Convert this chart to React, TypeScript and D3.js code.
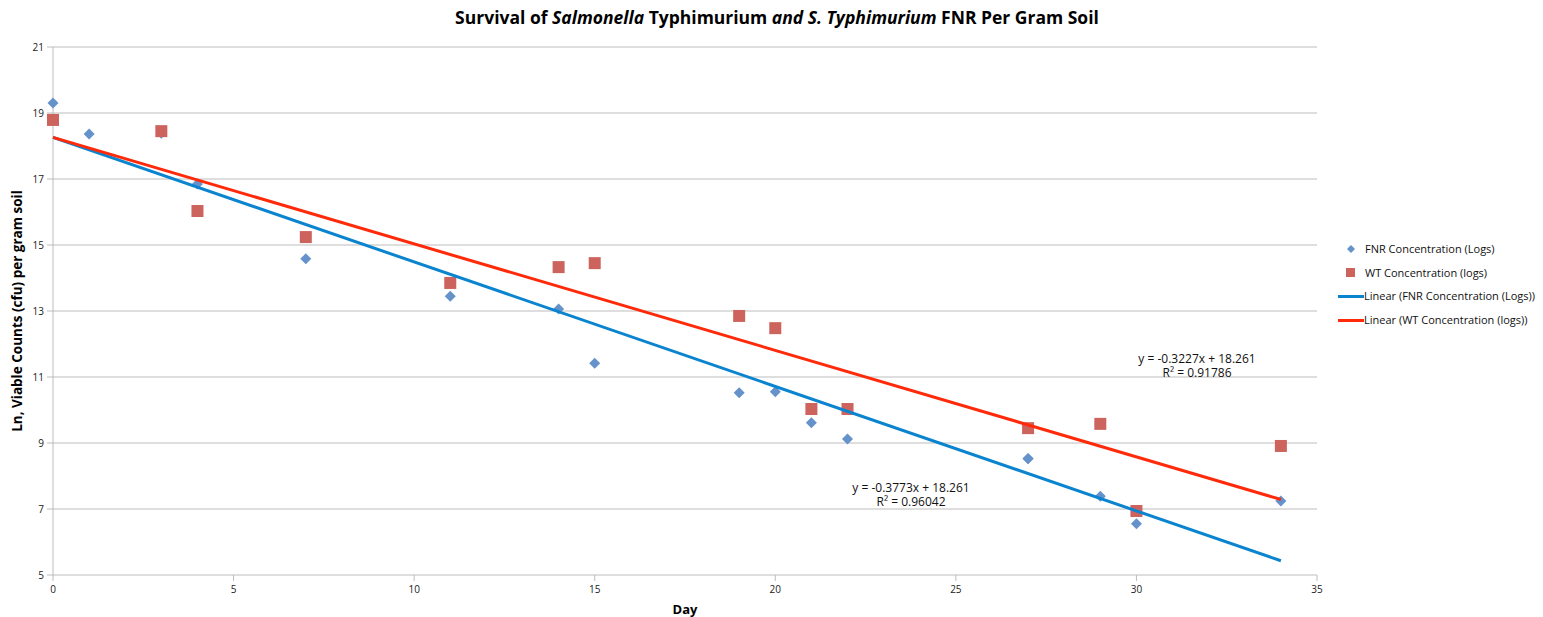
import React from 'react';
import * as d3 from 'd3';

// Day of sampling and ln counts
const fnrDays = [0, 1, 3, 4, 7, 11, 14, 15, 19, 20, 21, 22, 27, 27, 29, 30, 34];
const fnrValues = [19.3, 18.36, 18.39, 16.85, 14.58, 13.45, 13.06, 11.42, 10.52, 10.55, 9.61, 9.12, 8.52, 8.53, 7.39, 6.55, 7.24];

const wtDays = [0, 3, 4, 7, 11, 14, 15, 19, 20, 21, 22, 27, 29, 30, 34];
const wtValues = [18.79, 18.45, 16.03, 15.24, 13.85, 14.33, 14.45, 12.85, 12.48, 10.03, 10.03, 9.45, 9.58, 6.94, 8.91];

// trendline coefficients [slope, intercept, r2]
const fnrFit = [-0.3773, 18.261, 0.96042];
const wtFit = [-0.3227, 18.261, 0.91786];
const fitRange = [0, 34];

const xTicks = [0, 5, 10, 15, 20, 25, 30, 35];
const yTicks = [5, 7, 9, 11, 13, 15, 17, 19, 21];

const legendLabels = [
  'FNR Concentration (Logs)',
  'WT Concentration (logs)',
  'Linear (FNR Concentration (Logs))',
  'Linear (WT Concentration (logs))',
];

const FONT = '"Open Sans", "DejaVu Sans", sans-serif';
const BLUE_PT = '#6592CA';
const RED_PT = '#CD635D';
const BLUE_LN = '#0A84CE';
const RED_LN = '#FF2A0A';

const diamond = (cx: number, cy: number, r: number) =>
  `M${cx},${cy - r}L${cx + r},${cy}L${cx},${cy + r}L${cx - r},${cy}Z`;

export default function App() {
  const width = 1543;
  const height = 617;
  const left = 53, right = 1317, top = 47, bottom = 575;

  const x = d3.scaleLinear().domain([0, 35]).range([left, right]);
  const y = d3.scaleLinear().domain([5, 21]).range([bottom, top]);

  const fitPath = (fit: number[]) =>
    d3
      .line<number>()
      .x((d) => x(d))
      .y((d) => y(fit[0] * d + fit[1]))(fitRange) as string;

  return (
    <svg width={width} height={height} style={{ position: 'absolute', left: 0, top: 0, background: '#fff' }}>
      <text x={777} y={24} textAnchor="middle" fontFamily={FONT} fontWeight="bold" fontSize={17.5}>
        <tspan>Survival of </tspan>
        <tspan fontStyle="italic">Salmonella</tspan>
        <tspan> Typhimurium </tspan>
        <tspan fontStyle="italic">and S. Typhimurium</tspan>
        <tspan> FNR Per Gram Soil</tspan>
      </text>

      {/* grid */}
      {yTicks.map((t) => (
        <g key={'y' + t}>
          <line x1={left - 6} x2={right} y1={y(t)} y2={y(t)} stroke="#BDBDBD" strokeWidth={1} />
          <text x={left - 9} y={y(t) + 3.5} textAnchor="end" fontFamily={FONT} fontSize={10} fill="#222">
            {t}
          </text>
        </g>
      ))}
      <line x1={left} x2={left} y1={top} y2={bottom} stroke="#BDBDBD" />
      {xTicks.map((t) => (
        <g key={'x' + t}>
          <line x1={x(t)} x2={x(t)} y1={bottom} y2={bottom + 6} stroke="#BDBDBD" />
          <text x={x(t)} y={bottom + 18} textAnchor="middle" fontFamily={FONT} fontSize={10} fill="#222">
            {t}
          </text>
        </g>
      ))}

      <text x={685} y={614} textAnchor="middle" fontFamily={FONT} fontWeight="bold" fontSize={13}>
        Day
      </text>
      <text
        transform={`translate(22,${(top + bottom) / 2}) rotate(-90)`}
        textAnchor="middle"
        fontFamily={FONT}
        fontWeight="bold"
        fontSize={13.5}
      >
        Ln,  Viable Counts (cfu) per gram soil
      </text>

      {/* points */}
      {fnrDays.map((d, i) => (
        <path key={'f' + i} d={diamond(x(d), y(fnrValues[i]), 5.5)} fill={BLUE_PT} />
      ))}
      {wtDays.map((d, i) => (
        <rect key={'w' + i} x={x(d) - 6} y={y(wtValues[i]) - 6} width={12} height={12} fill={RED_PT} />
      ))}

      {/* trendlines */}
      <path d={fitPath(fnrFit)} stroke={BLUE_LN} strokeWidth={3} fill="none" />
      <path d={fitPath(wtFit)} stroke={RED_LN} strokeWidth={3} fill="none" />

      <g fontFamily={FONT} fontSize={12} fill="#111" textAnchor="middle">
        <text x={911} y={492}>{`y = ${fnrFit[0]}x + ${fnrFit[1]}`}</text>
        <text x={911} y={506}>{`R² = ${fnrFit[2]}`}</text>
        <text x={1197} y={363}>{`y = ${wtFit[0]}x + ${wtFit[1]}`}</text>
        <text x={1197} y={377}>{`R² = ${wtFit[2]}`}</text>
      </g>

      {/* legend */}
      <g fontFamily={FONT} fontSize={11} fill="#111">
        <path d={diamond(1351, 249, 4)} fill={BLUE_PT} />
        <text x={1365} y={253}>{legendLabels[0]}</text>
        <rect x={1346} y={268} width={9} height={9} fill={RED_PT} />
        <text x={1365} y={277}>{legendLabels[1]}</text>
        <line x1={1338} x2={1364} y1={296.5} y2={296.5} stroke={BLUE_LN} strokeWidth={3} />
        <text x={1364} y={300}>{legendLabels[2]}</text>
        <line x1={1338} x2={1364} y1={320.5} y2={320.5} stroke={RED_LN} strokeWidth={3} />
        <text x={1364} y={324}>{legendLabels[3]}</text>
      </g>
    </svg>
  );
}
